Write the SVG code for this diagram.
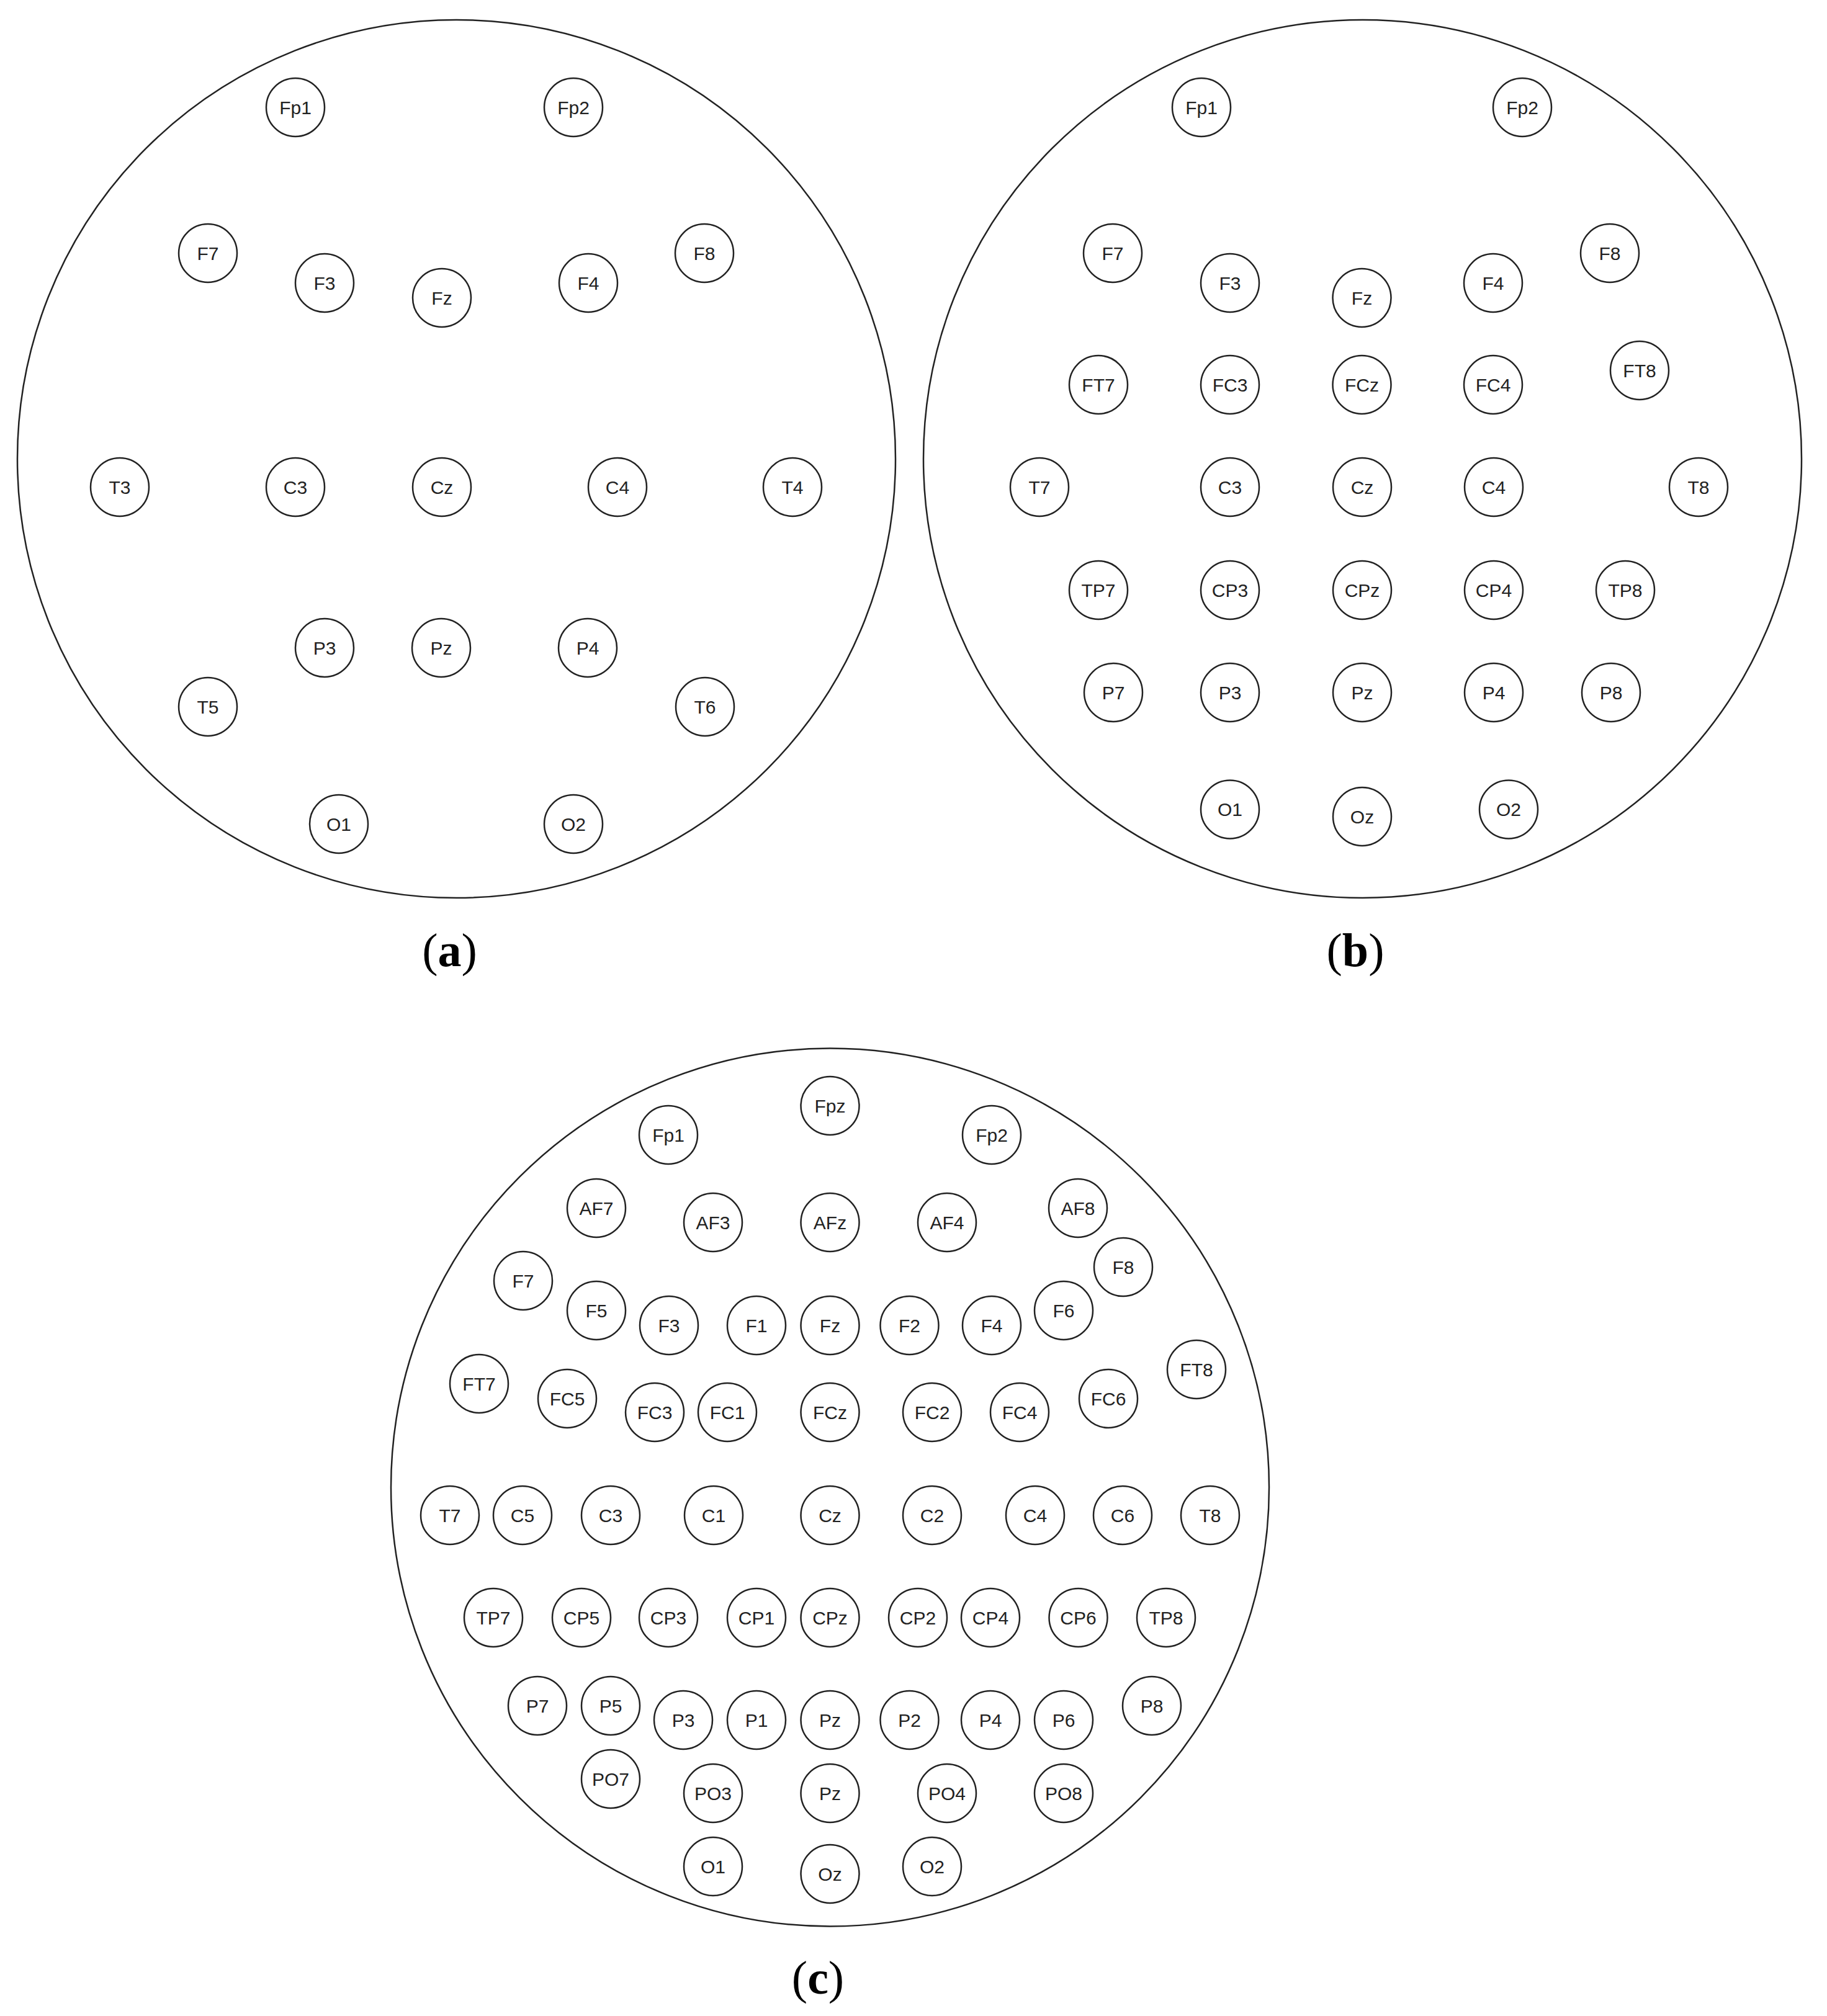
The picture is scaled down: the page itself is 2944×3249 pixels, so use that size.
<svg xmlns="http://www.w3.org/2000/svg" width="2944" height="3249" viewBox="0 0 2944 3249">
<style>
.head{fill:none;stroke:#222;stroke-width:2.5}
.e circle{fill:none;stroke:#222;stroke-width:2.5}
.e text{font-family:"Liberation Sans",Arial,sans-serif;font-size:30px;fill:#222;text-anchor:middle}
.cap{font-family:"Liberation Serif","Times New Roman",serif;font-size:76px;fill:#000;text-anchor:middle}
.cap tspan.b{font-weight:bold}
</style>
<rect width="2944" height="3249" fill="#fff"/>
<g id="connectors"></g>

<!-- Panel (a) -->
<g id="panel-a">
<circle id="head-a" class="head" cx="735.5" cy="739.5" r="707.5"/>
<g id="a-Fp1" class="e"><circle cx="476" cy="173" r="47"/><text x="476" y="183.5">Fp1</text></g>
<g id="a-Fp2" class="e"><circle cx="924" cy="173" r="47"/><text x="924" y="183.5">Fp2</text></g>
<g id="a-F7" class="e"><circle cx="335" cy="408" r="47"/><text x="335" y="418.5">F7</text></g>
<g id="a-F3" class="e"><circle cx="523" cy="456" r="47"/><text x="523" y="466.5">F3</text></g>
<g id="a-Fz" class="e"><circle cx="712" cy="480" r="47"/><text x="712" y="490.5">Fz</text></g>
<g id="a-F4" class="e"><circle cx="948" cy="456" r="47"/><text x="948" y="466.5">F4</text></g>
<g id="a-F8" class="e"><circle cx="1135" cy="408" r="47"/><text x="1135" y="418.5">F8</text></g>
<g id="a-T3" class="e"><circle cx="193" cy="785" r="47"/><text x="193" y="795.5">T3</text></g>
<g id="a-C3" class="e"><circle cx="476" cy="785" r="47"/><text x="476" y="795.5">C3</text></g>
<g id="a-Cz" class="e"><circle cx="712" cy="785" r="47"/><text x="712" y="795.5">Cz</text></g>
<g id="a-C4" class="e"><circle cx="995" cy="785" r="47"/><text x="995" y="795.5">C4</text></g>
<g id="a-T4" class="e"><circle cx="1277" cy="785" r="47"/><text x="1277" y="795.5">T4</text></g>
<g id="a-P3" class="e"><circle cx="523" cy="1044" r="47"/><text x="523" y="1054.5">P3</text></g>
<g id="a-Pz" class="e"><circle cx="711" cy="1044" r="47"/><text x="711" y="1054.5">Pz</text></g>
<g id="a-P4" class="e"><circle cx="947" cy="1044" r="47"/><text x="947" y="1054.5">P4</text></g>
<g id="a-T5" class="e"><circle cx="335" cy="1139" r="47"/><text x="335" y="1149.5">T5</text></g>
<g id="a-T6" class="e"><circle cx="1136" cy="1139" r="47"/><text x="1136" y="1149.5">T6</text></g>
<g id="a-O1" class="e"><circle cx="546" cy="1328" r="47"/><text x="546" y="1338.5">O1</text></g>
<g id="a-O2" class="e"><circle cx="924" cy="1328" r="47"/><text x="924" y="1338.5">O2</text></g>
<text id="label-a" class="cap" x="724.5" y="1557">(<tspan class="b">a</tspan>)</text>
</g>

<!-- Panel (b) -->
<g id="panel-b">
<circle id="head-b" class="head" cx="2195.5" cy="739.5" r="707.5"/>
<g id="b-Fp1" class="e"><circle cx="1936" cy="173" r="47"/><text x="1936" y="183.5">Fp1</text></g>
<g id="b-Fp2" class="e"><circle cx="2453" cy="173" r="47"/><text x="2453" y="183.5">Fp2</text></g>
<g id="b-F7" class="e"><circle cx="1793" cy="408" r="47"/><text x="1793" y="418.5">F7</text></g>
<g id="b-F3" class="e"><circle cx="1982" cy="456" r="47"/><text x="1982" y="466.5">F3</text></g>
<g id="b-Fz" class="e"><circle cx="2194.5" cy="480" r="47"/><text x="2194.5" y="490.5">Fz</text></g>
<g id="b-F4" class="e"><circle cx="2406" cy="456" r="47"/><text x="2406" y="466.5">F4</text></g>
<g id="b-F8" class="e"><circle cx="2594" cy="408" r="47"/><text x="2594" y="418.5">F8</text></g>
<g id="b-FT7" class="e"><circle cx="1770" cy="620" r="47"/><text x="1770" y="630.5">FT7</text></g>
<g id="b-FC3" class="e"><circle cx="1982" cy="620" r="47"/><text x="1982" y="630.5">FC3</text></g>
<g id="b-FCz" class="e"><circle cx="2194.5" cy="620" r="47"/><text x="2194.5" y="630.5">FCz</text></g>
<g id="b-FC4" class="e"><circle cx="2406" cy="620" r="47"/><text x="2406" y="630.5">FC4</text></g>
<g id="b-FT8" class="e"><circle cx="2642" cy="597" r="47"/><text x="2642" y="607.5">FT8</text></g>
<g id="b-T7" class="e"><circle cx="1675" cy="785" r="47"/><text x="1675" y="795.5">T7</text></g>
<g id="b-C3" class="e"><circle cx="1982" cy="785" r="47"/><text x="1982" y="795.5">C3</text></g>
<g id="b-Cz" class="e"><circle cx="2195" cy="785" r="47"/><text x="2195" y="795.5">Cz</text></g>
<g id="b-C4" class="e"><circle cx="2407" cy="785" r="47"/><text x="2407" y="795.5">C4</text></g>
<g id="b-T8" class="e"><circle cx="2737" cy="785" r="47"/><text x="2737" y="795.5">T8</text></g>
<g id="b-TP7" class="e"><circle cx="1770" cy="951" r="47"/><text x="1770" y="961.5">TP7</text></g>
<g id="b-CP3" class="e"><circle cx="1982" cy="951" r="47"/><text x="1982" y="961.5">CP3</text></g>
<g id="b-CPz" class="e"><circle cx="2195" cy="951" r="47"/><text x="2195" y="961.5">CPz</text></g>
<g id="b-CP4" class="e"><circle cx="2407" cy="951" r="47"/><text x="2407" y="961.5">CP4</text></g>
<g id="b-TP8" class="e"><circle cx="2619" cy="951" r="47"/><text x="2619" y="961.5">TP8</text></g>
<g id="b-P7" class="e"><circle cx="1794" cy="1116" r="47"/><text x="1794" y="1126.5">P7</text></g>
<g id="b-P3" class="e"><circle cx="1982" cy="1116" r="47"/><text x="1982" y="1126.5">P3</text></g>
<g id="b-Pz" class="e"><circle cx="2195" cy="1116" r="47"/><text x="2195" y="1126.5">Pz</text></g>
<g id="b-P4" class="e"><circle cx="2407" cy="1116" r="47"/><text x="2407" y="1126.5">P4</text></g>
<g id="b-P8" class="e"><circle cx="2596" cy="1116" r="47"/><text x="2596" y="1126.5">P8</text></g>
<g id="b-O1" class="e"><circle cx="1982" cy="1304.5" r="47"/><text x="1982" y="1315">O1</text></g>
<g id="b-Oz" class="e"><circle cx="2195" cy="1316" r="47"/><text x="2195" y="1326.5">Oz</text></g>
<g id="b-O2" class="e"><circle cx="2431" cy="1304.5" r="47"/><text x="2431" y="1315">O2</text></g>
<text id="label-b" class="cap" x="2184" y="1557">(<tspan class="b">b</tspan>)</text>
</g>

<!-- Panel (c) -->
<g id="panel-c">
<circle id="head-c" class="head" cx="1337.5" cy="2397" r="707.5"/>
<g id="c-Fpz" class="e"><circle cx="1337.5" cy="1782" r="47"/><text x="1337.5" y="1792.5">Fpz</text></g>
<g id="c-Fp1" class="e"><circle cx="1077" cy="1829" r="47"/><text x="1077" y="1839.5">Fp1</text></g>
<g id="c-Fp2" class="e"><circle cx="1598" cy="1829" r="47"/><text x="1598" y="1839.5">Fp2</text></g>
<g id="c-AF7" class="e"><circle cx="961" cy="1947" r="47"/><text x="961" y="1957.5">AF7</text></g>
<g id="c-AF3" class="e"><circle cx="1149" cy="1970" r="47"/><text x="1149" y="1980.5">AF3</text></g>
<g id="c-AFz" class="e"><circle cx="1337.5" cy="1970" r="47"/><text x="1337.5" y="1980.5">AFz</text></g>
<g id="c-AF4" class="e"><circle cx="1526" cy="1970" r="47"/><text x="1526" y="1980.5">AF4</text></g>
<g id="c-AF8" class="e"><circle cx="1737" cy="1947" r="47"/><text x="1737" y="1957.5">AF8</text></g>
<g id="c-F7" class="e"><circle cx="843" cy="2064" r="47"/><text x="843" y="2074.5">F7</text></g>
<g id="c-F5" class="e"><circle cx="961" cy="2112" r="47"/><text x="961" y="2122.5">F5</text></g>
<g id="c-F3" class="e"><circle cx="1078" cy="2136" r="47"/><text x="1078" y="2146.5">F3</text></g>
<g id="c-F1" class="e"><circle cx="1219" cy="2136" r="47"/><text x="1219" y="2146.5">F1</text></g>
<g id="c-Fz" class="e"><circle cx="1337.5" cy="2136" r="47"/><text x="1337.5" y="2146.5">Fz</text></g>
<g id="c-F2" class="e"><circle cx="1465.5" cy="2136" r="47"/><text x="1465.5" y="2146.5">F2</text></g>
<g id="c-F4" class="e"><circle cx="1598" cy="2136" r="47"/><text x="1598" y="2146.5">F4</text></g>
<g id="c-F6" class="e"><circle cx="1714" cy="2112" r="47"/><text x="1714" y="2122.5">F6</text></g>
<g id="c-F8" class="e"><circle cx="1810" cy="2042" r="47"/><text x="1810" y="2052.5">F8</text></g>
<g id="c-FT7" class="e"><circle cx="772" cy="2230" r="47"/><text x="772" y="2240.5">FT7</text></g>
<g id="c-FC5" class="e"><circle cx="914" cy="2254" r="47"/><text x="914" y="2264.5">FC5</text></g>
<g id="c-FC3" class="e"><circle cx="1055" cy="2276" r="47"/><text x="1055" y="2286.5">FC3</text></g>
<g id="c-FC1" class="e"><circle cx="1172" cy="2276" r="47"/><text x="1172" y="2286.5">FC1</text></g>
<g id="c-FCz" class="e"><circle cx="1337.5" cy="2276" r="47"/><text x="1337.5" y="2286.5">FCz</text></g>
<g id="c-FC2" class="e"><circle cx="1502" cy="2276" r="47"/><text x="1502" y="2286.5">FC2</text></g>
<g id="c-FC4" class="e"><circle cx="1643" cy="2276" r="47"/><text x="1643" y="2286.5">FC4</text></g>
<g id="c-FC6" class="e"><circle cx="1786" cy="2254" r="47"/><text x="1786" y="2264.5">FC6</text></g>
<g id="c-FT8" class="e"><circle cx="1928" cy="2207" r="47"/><text x="1928" y="2217.5">FT8</text></g>
<g id="c-T7" class="e"><circle cx="725" cy="2442" r="47"/><text x="725" y="2452.5">T7</text></g>
<g id="c-C5" class="e"><circle cx="842" cy="2442" r="47"/><text x="842" y="2452.5">C5</text></g>
<g id="c-C3" class="e"><circle cx="984" cy="2442" r="47"/><text x="984" y="2452.5">C3</text></g>
<g id="c-C1" class="e"><circle cx="1150" cy="2442" r="47"/><text x="1150" y="2452.5">C1</text></g>
<g id="c-Cz" class="e"><circle cx="1337.5" cy="2442" r="47"/><text x="1337.5" y="2452.5">Cz</text></g>
<g id="c-C2" class="e"><circle cx="1502" cy="2442" r="47"/><text x="1502" y="2452.5">C2</text></g>
<g id="c-C4" class="e"><circle cx="1668" cy="2442" r="47"/><text x="1668" y="2452.5">C4</text></g>
<g id="c-C6" class="e"><circle cx="1809" cy="2442" r="47"/><text x="1809" y="2452.5">C6</text></g>
<g id="c-T8" class="e"><circle cx="1950" cy="2442" r="47"/><text x="1950" y="2452.5">T8</text></g>
<g id="c-TP7" class="e"><circle cx="795" cy="2607" r="47"/><text x="795" y="2617.5">TP7</text></g>
<g id="c-CP5" class="e"><circle cx="937" cy="2607" r="47"/><text x="937" y="2617.5">CP5</text></g>
<g id="c-CP3" class="e"><circle cx="1077" cy="2607" r="47"/><text x="1077" y="2617.5">CP3</text></g>
<g id="c-CP1" class="e"><circle cx="1219" cy="2607" r="47"/><text x="1219" y="2617.5">CP1</text></g>
<g id="c-CPz" class="e"><circle cx="1337.5" cy="2607" r="47"/><text x="1337.5" y="2617.5">CPz</text></g>
<g id="c-CP2" class="e"><circle cx="1479" cy="2607" r="47"/><text x="1479" y="2617.5">CP2</text></g>
<g id="c-CP4" class="e"><circle cx="1596" cy="2607" r="47"/><text x="1596" y="2617.5">CP4</text></g>
<g id="c-CP6" class="e"><circle cx="1737.5" cy="2607" r="47"/><text x="1737.5" y="2617.5">CP6</text></g>
<g id="c-TP8" class="e"><circle cx="1879" cy="2607" r="47"/><text x="1879" y="2617.5">TP8</text></g>
<g id="c-P7" class="e"><circle cx="866" cy="2749" r="47"/><text x="866" y="2759.5">P7</text></g>
<g id="c-P5" class="e"><circle cx="984" cy="2749" r="47"/><text x="984" y="2759.5">P5</text></g>
<g id="c-P3" class="e"><circle cx="1101" cy="2772" r="47"/><text x="1101" y="2782.5">P3</text></g>
<g id="c-P1" class="e"><circle cx="1219" cy="2772" r="47"/><text x="1219" y="2782.5">P1</text></g>
<g id="c-Pz" class="e"><circle cx="1337.5" cy="2772" r="47"/><text x="1337.5" y="2782.5">Pz</text></g>
<g id="c-P2" class="e"><circle cx="1465.5" cy="2772" r="47"/><text x="1465.5" y="2782.5">P2</text></g>
<g id="c-P4" class="e"><circle cx="1596" cy="2772" r="47"/><text x="1596" y="2782.5">P4</text></g>
<g id="c-P6" class="e"><circle cx="1714" cy="2772" r="47"/><text x="1714" y="2782.5">P6</text></g>
<g id="c-P8" class="e"><circle cx="1856" cy="2749" r="47"/><text x="1856" y="2759.5">P8</text></g>
<g id="c-PO7" class="e"><circle cx="984" cy="2867" r="47"/><text x="984" y="2877.5">PO7</text></g>
<g id="c-PO3" class="e"><circle cx="1149" cy="2890" r="47"/><text x="1149" y="2900.5">PO3</text></g>
<g id="c-Pz2" class="e"><circle cx="1337.5" cy="2890" r="47"/><text x="1337.5" y="2900.5">Pz</text></g>
<g id="c-PO4" class="e"><circle cx="1526" cy="2890" r="47"/><text x="1526" y="2900.5">PO4</text></g>
<g id="c-PO8" class="e"><circle cx="1714" cy="2890" r="47"/><text x="1714" y="2900.5">PO8</text></g>
<g id="c-O1" class="e"><circle cx="1149" cy="3008" r="47"/><text x="1149" y="3018.5">O1</text></g>
<g id="c-Oz" class="e"><circle cx="1337.5" cy="3020" r="47"/><text x="1337.5" y="3030.5">Oz</text></g>
<g id="c-O2" class="e"><circle cx="1502" cy="3008" r="47"/><text x="1502" y="3018.5">O2</text></g>
<text id="label-c" class="cap" x="1318" y="3213">(<tspan class="b">c</tspan>)</text>
</g>
</svg>
